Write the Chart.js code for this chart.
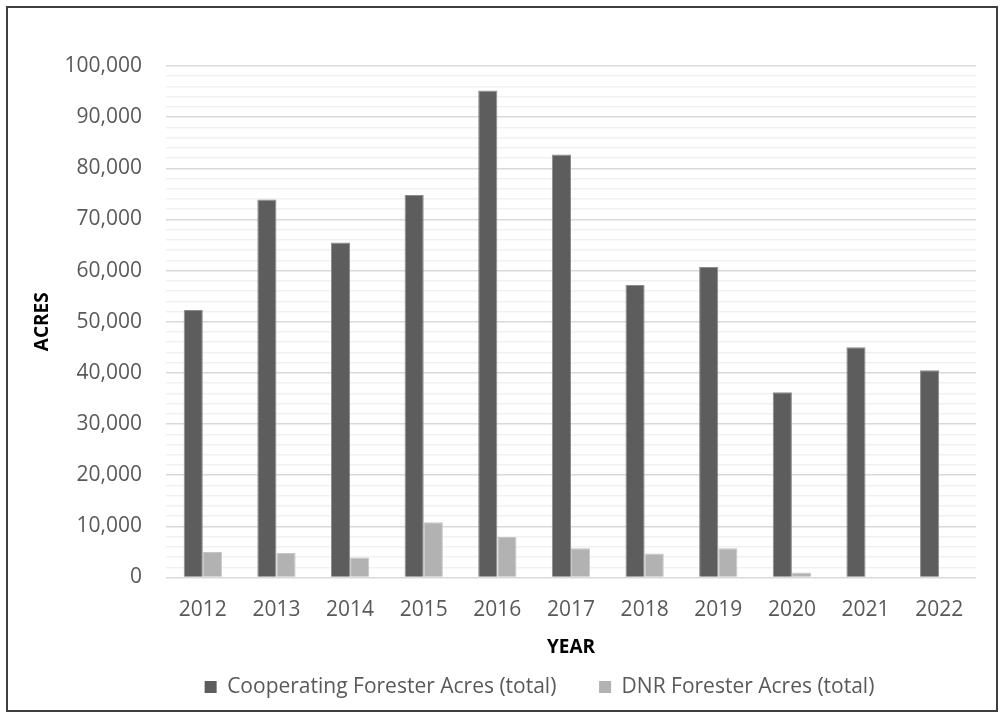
<!DOCTYPE html>
<html>
<head>
<meta charset="utf-8">
<script src="https://cdn.jsdelivr.net/npm/chart.js@4.4.0/dist/chart.umd.min.js"></script>
<style>
  html, body { margin: 0; padding: 0; background: #fff; }
  #wrap { width: 1006px; height: 719px; position: relative; }
</style>
</head>
<body>
<div id="wrap"><canvas id="acresChart"></canvas></div>
<script>
// Data
const years = ['2012', '2013', '2014', '2015', '2016', '2017', '2018', '2019', '2020', '2021', '2022'];
const cooperatingAcres = [52300, 73900, 65500, 74800, 95200, 82700, 57200, 60700, 36200, 45000, 40500];
const dnrAcres = [5000, 4800, 3900, 10800, 7900, 5700, 4700, 5700, 1000, null, null];
const yMin = 0;
const yMax = 100000;
const yMajorStep = 10000;
const yMinorStep = 2000;

const FONT = "'Open Sans', 'Liberation Sans', sans-serif";

// Frame around the whole chart
const framePlugin = {
    id: 'frame',
    beforeDraw(chart) {
        const ctx = chart.ctx;
        ctx.save();
        ctx.strokeStyle = '#3f3f3f';
        ctx.lineWidth = 2;
        ctx.strokeRect(7, 7, 990, 704);
        ctx.restore();
    }
};

// Legend in the original sits a bit right of centre
const legendShift = {
    id: 'legendShift',
    afterLayout(chart) {
        chart.legend.left += 39;
        chart.legend.right += 39;
    }
};

document.addEventListener('DOMContentLoaded', function() {
    const ctx = document.getElementById('acresChart').getContext('2d');
    const acresChart = new Chart(ctx, {
        type: 'bar',
        data: {
            labels: years,
            datasets: [{
                label: 'Cooperating Forester Acres (total)',
                data: cooperatingAcres,
                backgroundColor: '#5d5d5d',
                borderColor: '#8c8c8c',
                borderWidth: 1,
                categoryPercentage: 0.52,
                barPercentage: 1.0
            }, {
                label: 'DNR Forester Acres (total)',
                data: dnrAcres,
                backgroundColor: '#b2b2b2',
                borderColor: '#c6c6c6',
                borderWidth: 1,
                categoryPercentage: 0.52,
                barPercentage: 1.0
            }]
        },
        options: {
            responsive: true,
            maintainAspectRatio: false,
            animation: false,
            layout: {
                padding: { left: 25, right: 30, top: 66, bottom: 11.5 }
            },
            plugins: {
                legend: {
                    position: 'bottom',
                    labels: {
                        boxWidth: 12,
                        boxHeight: 12,
                        padding: 10,
                        color: '#595959',
                        font: { family: FONT, size: 21 },
                        generateLabels: function(chart) {
                            const items = Chart.defaults.plugins.legend.labels.generateLabels(chart);
                            // wider gap between the two entries, like the original
                            items[0].text = items[0].text + '      ';
                            items.forEach(function(it) { it.lineWidth = 0; });
                            return items;
                        }
                    }
                },
                tooltip: { enabled: false }
            },
            scales: {
                x: {
                    grid: { display: false },
                    border: { display: false },
                    ticks: {
                        color: '#595959',
                        padding: 12,
                        font: { family: FONT, size: 21 }
                    },
                    title: {
                        display: true,
                        text: 'YEAR',
                        color: '#000',
                        padding: { top: 0, bottom: 8 },
                        font: { family: FONT, size: 19, weight: 'bold' }
                    },
                    afterFit: function(scale) { scale.height = 89; }
                },
                y: {
                    min: yMin,
                    max: yMax,
                    border: { display: false },
                    grid: {
                        drawTicks: false,
                        lineWidth: 1.5,
                        color: function(c) {
                            return c.tick && c.tick.value % yMajorStep === 0 ? '#d9d9d9' : '#f1f1f1';
                        }
                    },
                    ticks: {
                        stepSize: yMinorStep,
                        autoSkip: false,
                        padding: 24,
                        color: '#595959',
                        font: { family: FONT, size: 21 },
                        callback: function(value) {
                            return value % yMajorStep === 0 ? value.toLocaleString('en-US') : '';
                        }
                    },
                    title: {
                        display: true,
                        text: 'ACRES',
                        color: '#000',
                        padding: { top: 6, bottom: 0 },
                        font: { family: FONT, size: 19, weight: 'bold' }
                    },
                    afterFit: function(scale) { scale.width = 141; }
                }
            }
        },
        plugins: [framePlugin, legendShift]
    });
});
</script>
</body>
</html>
